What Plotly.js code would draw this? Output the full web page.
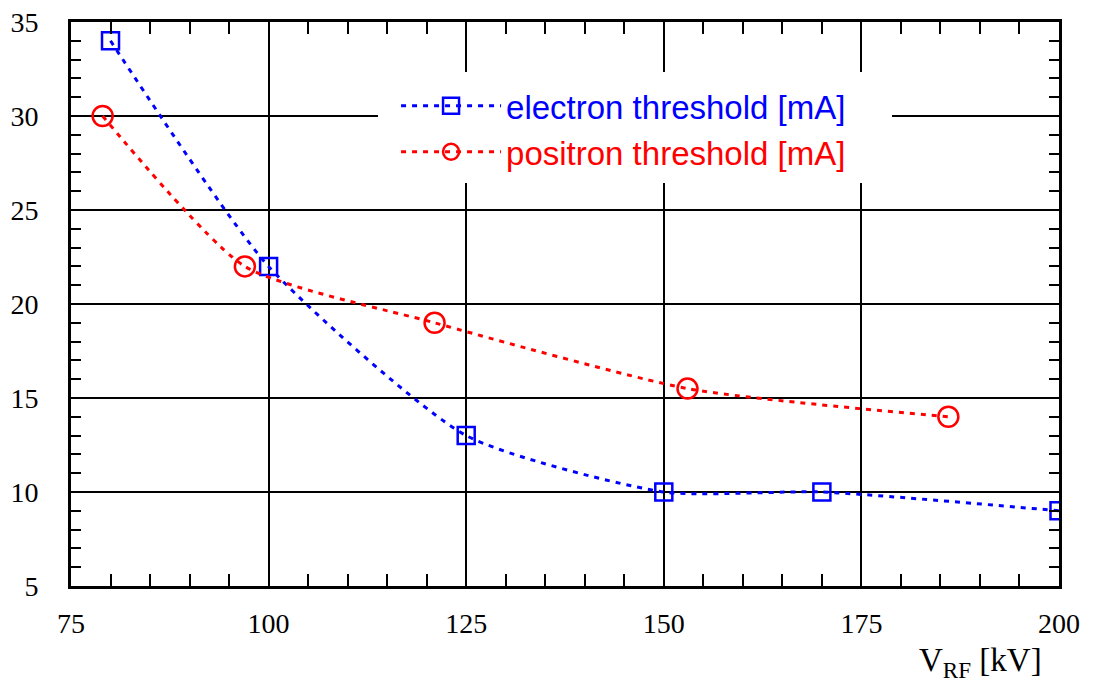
<!DOCTYPE html>
<html>
<head>
<meta charset="utf-8">
<script src="https://cdn.plot.ly/plotly-3.0.1.min.js"></script>
<style>body{margin:0;background:#fff}#chart{width:1096px;height:684px}</style>
</head>
<body>
<div id="chart"></div>
<script>
const electronV = [80, 100, 125, 150, 170, 200];
const electronI = [34, 22, 13, 10, 10, 9];
const positronV = [79, 97, 121, 153, 186];
const positronI = [30, 22, 19, 15.5, 14];
const xTicks = [75, 100, 125, 150, 175, 200];
const yTicks = [5, 10, 15, 20, 25, 30, 35];
const seriesNames = ['electron threshold [mA]', 'positron threshold [mA]'];
const seriesColors = ['#0000ff', '#ff0000'];

const serif = 'Liberation Serif';
const sans = 'Liberation Sans';

function coloredName(i) {
  return '<span style="fill:' + seriesColors[i] + '">' + seriesNames[i] + '</span>';
}

const traces = [
  {
    x: electronV, y: electronI, name: coloredName(0),
    mode: 'lines+markers', type: 'scatter',
    line: {color: seriesColors[0], width: 3, dash: '5px,6px', shape: 'spline', smoothing: 0.6},
    marker: {symbol: 'square-open', size: 17, color: seriesColors[0], line: {width: 2.5}}
  },
  {
    x: positronV, y: positronI, name: coloredName(1),
    mode: 'lines+markers', type: 'scatter',
    line: {color: seriesColors[1], width: 3, dash: '5px,6px', shape: 'spline', smoothing: 0.6},
    marker: {symbol: 'circle-open', size: 20, color: seriesColors[1], line: {width: 2.5}}
  }
];

function axis(extra) {
  return Object.assign({
    showline: true, linecolor: '#000', linewidth: 3, mirror: 'allticks',
    showgrid: true, gridcolor: '#000', gridwidth: 2,
    ticks: 'inside', ticklen: 12, tickwidth: 2, tickcolor: '#000',
    zeroline: false,
    tickfont: {family: serif, size: 28, color: '#000'}
  }, extra);
}

const layout = {
  width: 1096, height: 684,
  margin: {l: 71, r: 37, t: 22, b: 98},
  paper_bgcolor: '#fff', plot_bgcolor: '#fff',
  font: {family: serif, size: 28, color: '#000'},
  showlegend: true,
  legend: {
    x: 0.329, y: 0.901, xanchor: 'left', yanchor: 'top',
    bgcolor: 'rgba(255,255,255,0)', borderwidth: 0,
    font: {family: sans, size: 33},
    itemwidth: 100, tracegroupgap: 0
  },
  shapes: [{
    type: 'rect', xref: 'paper', yref: 'paper', layer: 'above',
    x0: 0.3107, x1: 0.8310, y0: 0.7145, y1: 0.9113,
    fillcolor: '#fff', line: {width: 0}
  }],
  xaxis: axis({
    range: [75, 200], tickvals: xTicks, ticklabelstandoff: 10,
    minor: {dtick: 5, ticks: 'inside', ticklen: 12, tickwidth: 2, tickcolor: '#000', showgrid: false}
  }),
  yaxis: axis({
    range: [5, 35], tickvals: yTicks, ticklabelstandoff: 24,
    minor: {dtick: 1, ticks: 'inside', ticklen: 10, tickwidth: 2, tickcolor: '#000', showgrid: false}
  }),
  annotations: [{
    xref: 'paper', yref: 'paper', x: 0.985, y: -0.095, xanchor: 'right', yanchor: 'top',
    text: 'V<sub>RF</sub> [kV]', showarrow: false,
    font: {family: serif, size: 33, color: '#000'}
  }]
};

Plotly.newPlot('chart', traces, layout, {displayModeBar: false, staticPlot: true});
</script>
</body>
</html>
